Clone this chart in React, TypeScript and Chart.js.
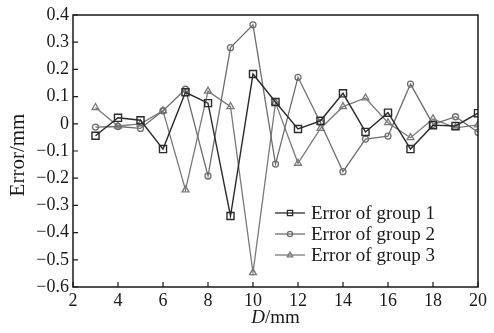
import React, { useEffect, useRef } from 'react';
import { Chart, registerables } from 'chart.js';

Chart.register(...registerables);

const xValues = [3, 4, 5, 6, 7, 8, 9, 10, 11, 12, 13, 14, 15, 16, 17, 18, 19, 20];
const group1 = [-0.044, 0.022, 0.013, -0.093, 0.116, 0.076, -0.339, 0.183, 0.08, -0.019, 0.011, 0.112, -0.03, 0.041, -0.093, -0.005, -0.008, 0.039];
const group2 = [-0.012, -0.01, -0.017, 0.048, 0.127, -0.192, 0.28, 0.364, -0.148, 0.171, 0.004, -0.176, -0.056, -0.045, 0.146, -0.002, 0.026, -0.031];
const group3 = [0.06, -0.008, 0.0, 0.048, -0.243, 0.12, 0.063, -0.547, 0.078, -0.145, -0.017, 0.063, 0.095, 0.004, -0.051, 0.018, -0.015, -0.004];
const seriesLabels = ['Error of group 1', 'Error of group 2', 'Error of group 3'];
const xTicks = [2, 4, 6, 8, 10, 12, 14, 16, 18, 20];
const yTicks = [-0.6, -0.5, -0.4, -0.3, -0.2, -0.1, 0, 0.1, 0.2, 0.3, 0.4];

const SERIF = '"Liberation Serif", "Times New Roman", serif';

function fmtY(v: number): string {
  if (Math.abs(v) < 1e-9) return '0';
  const s = Math.abs(v).toFixed(1);
  return v < 0 ? '\u2212' + s : s;
}

function drawMarker(ctx: CanvasRenderingContext2D, style: string, x: number, y: number, r: number) {
  ctx.beginPath();
  if (style === 'rect') {
    ctx.rect(x - r, y - r, 2 * r, 2 * r);
  } else if (style === 'circle') {
    ctx.arc(x, y, r, 0, Math.PI * 2);
  } else {
    ctx.moveTo(x, y - r * 1.1);
    ctx.lineTo(x + r * 1.05, y + r * 0.7);
    ctx.lineTo(x - r * 1.05, y + r * 0.7);
    ctx.closePath();
  }
  ctx.stroke();
}

const decorPlugin = {
  id: 'decor',
  afterDraw(chart: any) {
    const ctx: CanvasRenderingContext2D = chart.ctx;
    const { left, right, top, bottom } = chart.chartArea;
    const xs = chart.scales.x;
    const ys = chart.scales.y;
    ctx.save();
    // frame
    ctx.strokeStyle = '#1a1a1a';
    ctx.lineWidth = 1.5;
    ctx.beginPath();
    ctx.rect(left, top, right - left, bottom - top);
    ctx.stroke();
    // inward ticks
    ctx.lineWidth = 1.2;
    ctx.beginPath();
    xTicks.forEach((v) => {
      const px = xs.getPixelForValue(v);
      ctx.moveTo(px, bottom);
      ctx.lineTo(px, bottom - 5);
    });
    yTicks.forEach((v) => {
      const py = ys.getPixelForValue(v);
      ctx.moveTo(left, py);
      ctx.lineTo(left + 5, py);
    });
    ctx.stroke();

    // axis titles
    ctx.fillStyle = '#1a1a1a';
    ctx.textBaseline = 'middle';
    ctx.font = `italic 19px ${SERIF}`;
    const wD = ctx.measureText('D').width;
    ctx.font = `19px ${SERIF}`;
    const wRest = ctx.measureText('/mm').width;
    const cx = (left + right) / 2;
    const startX = cx - (wD + wRest) / 2;
    ctx.textAlign = 'left';
    ctx.font = `italic 19px ${SERIF}`;
    ctx.fillText('D', startX, 318);
    ctx.font = `19px ${SERIF}`;
    ctx.fillText('/mm', startX + wD, 318);

    ctx.save();
    ctx.translate(18, (top + bottom) / 2 + 4);
    ctx.rotate(-Math.PI / 2);
    ctx.textAlign = 'center';
    ctx.font = `21px ${SERIF}`;
    ctx.fillText('Error/mm', 0, 0);
    ctx.restore();

    // legend
    const rows = [213, 234, 255];
    chart.data.datasets.forEach((ds: any, i: number) => {
      const y = rows[i];
      ctx.strokeStyle = ds.borderColor;
      ctx.lineWidth = 1.3;
      ctx.beginPath();
      ctx.moveTo(275, y);
      ctx.lineTo(305, y);
      ctx.stroke();
      drawMarker(ctx, ds.pointStyle, 290, y, 2.6);
      ctx.fillStyle = '#1a1a1a';
      ctx.textAlign = 'left';
      ctx.textBaseline = 'middle';
      ctx.font = `19px ${SERIF}`;
      ctx.fillText(ds.label, 311, y + 1);
    });
    ctx.restore();
  },
};

export default function App() {
  const ref = useRef<HTMLCanvasElement | null>(null);
  useEffect(() => {
    if (!ref.current) return;
    const mk = (vals: number[]) => xValues.map((x, i) => ({ x, y: vals[i] }));
    const chart = new Chart(ref.current, {
      type: 'line',
      data: {
        datasets: [
          {
            label: seriesLabels[0],
            data: mk(group1),
            borderColor: '#2b2b2b',
            borderWidth: 1.4,
            pointStyle: 'rect',
            pointRadius: 5,
            pointBorderWidth: 1.4,
            pointBackgroundColor: 'rgba(255,255,255,0)',
            pointBorderColor: '#2b2b2b',
          },
          {
            label: seriesLabels[1],
            data: mk(group2),
            borderColor: '#6e6e6e',
            borderWidth: 1.3,
            pointStyle: 'circle',
            pointRadius: 3,
            pointBorderWidth: 1.3,
            pointBackgroundColor: 'rgba(255,255,255,0)',
            pointBorderColor: '#6e6e6e',
          },
          {
            label: seriesLabels[2],
            data: mk(group3),
            borderColor: '#7a7a7a',
            borderWidth: 1.3,
            pointStyle: 'triangle',
            pointRadius: 4,
            pointBorderWidth: 1.3,
            pointBackgroundColor: 'rgba(255,255,255,0)',
            pointBorderColor: '#7a7a7a',
          },
        ],
      },
      options: {
        animation: false,
        responsive: false,
        devicePixelRatio: 1,
        layout: { padding: { top: 15, right: 16, left: 0, bottom: 0 } },
        plugins: { legend: { display: false }, tooltip: { enabled: false } },
        scales: {
          x: {
            type: 'linear',
            min: 2,
            max: 20,
            afterBuildTicks: (s: any) => { s.ticks = xTicks.map((v) => ({ value: v })); },
            afterFit: (s: any) => { s.height = 46; },
            grid: { display: false, drawTicks: false },
            border: { display: false },
            ticks: { padding: 3, color: '#1a1a1a', font: { family: SERIF, size: 18 }, maxRotation: 0, autoSkip: false },
          },
          y: {
            type: 'linear',
            min: -0.6,
            max: 0.4,
            afterBuildTicks: (s: any) => { s.ticks = yTicks.map((v) => ({ value: v })); },
            afterFit: (s: any) => { s.width = 73; },
            grid: { display: false, drawTicks: false },
            border: { display: false },
            ticks: { padding: 4, color: '#1a1a1a', font: { family: SERIF, size: 18 }, callback: (v: any) => fmtY(Number(v)), autoSkip: false },
          },
        },
      },
      plugins: [decorPlugin],
    });
    return () => chart.destroy();
  }, []);
  return (
    <div style={{ position: 'absolute', left: 0, top: 0, width: 494, height: 333, background: '#fff' }}>
      <canvas ref={ref} width={494} height={333} />
    </div>
  );
}
